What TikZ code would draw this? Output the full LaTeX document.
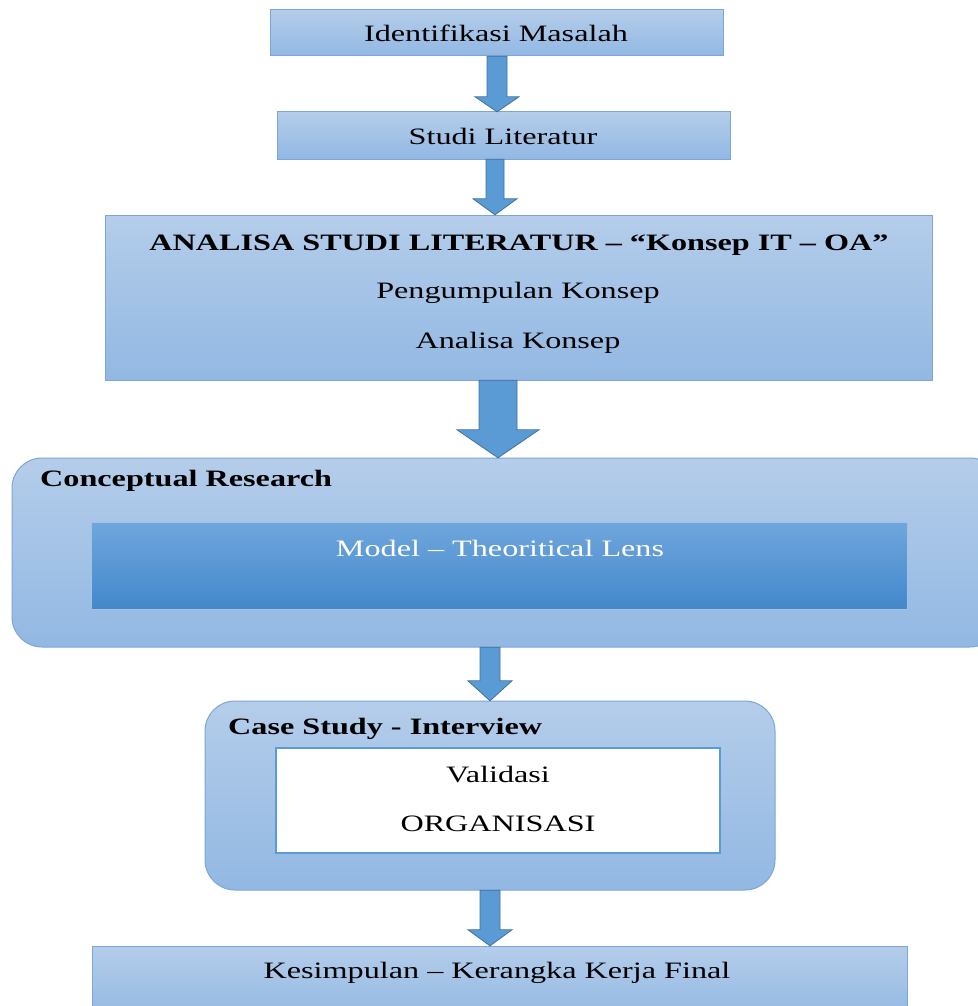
\documentclass[tikz,border=0pt]{standalone}
\usepackage{fontspec}
\setmainfont[FakeStretch=1.37]{Liberation Serif}
\usetikzlibrary{calc}

\definecolor{boxtop}{RGB}{180,205,234}
\definecolor{boxbot}{RGB}{146,184,227}
\definecolor{boxline}{RGB}{125,165,215}
\definecolor{modeltop}{RGB}{112,166,221}
\definecolor{modelbot}{RGB}{66,136,203}
\definecolor{arrowfill}{RGB}{91,155,213}
\definecolor{arrowline}{RGB}{65,113,156}

% block arrow: x centre, from node, to node, half shaft, half head, head length
\newcommand{\blockarrow}[6]{%
  \draw[flowarrow] let \p1=(#2.south), \p2=(#3.north) in
    (#1pt-#4pt,\y1) -- (#1pt+#4pt,\y1) -- (#1pt+#4pt,\y2+#6pt) --
    (#1pt+#5pt,\y2+#6pt) -- (#1pt,\y2) -- (#1pt-#5pt,\y2+#6pt) --
    (#1pt-#4pt,\y2+#6pt) -- cycle;}

\begin{document}
\begin{tikzpicture}[x=1pt,y=-1pt,
  box/.style={draw=boxline, line width=1pt, top color=boxtop, bottom color=boxbot,
    inner sep=0pt, outer sep=0pt},
  roundbox/.style={box, rounded corners=30pt},
  modelbox/.style={draw=boxline!70!white, line width=1pt, top color=modeltop,
    bottom color=modelbot, inner sep=0pt, outer sep=0pt},
  whitebox/.style={draw=arrowfill, line width=1.5pt, fill=white,
    inner sep=0pt, outer sep=0pt},
  txt/.style={font=\fontsize{23.5}{28}\selectfont, inner sep=0pt, anchor=base},
  bold/.style={txt, font=\fontsize{23.5}{28}\selectfont\bfseries},
  flowarrow/.style={draw=arrowline, line width=0.8pt, fill=arrowfill}]

\useasboundingbox (0,0) rectangle (977,1006);

% boxes, top to bottom
\path[box] (270,10) rectangle (723,56);
\node[inner sep=0pt, minimum width=453pt, minimum height=46pt] (b1) at (496.5,33) {};
\path[box] (277,112) rectangle (730,159);
\node[inner sep=0pt, minimum width=453pt, minimum height=47pt] (b2) at (503.5,135.5) {};
\path[box] (105,215) rectangle (932,380);
\node[inner sep=0pt, minimum width=827pt, minimum height=165pt] (b3) at (518.5,297.5) {};
\path[roundbox] (12,458) rectangle (1000,647);
\node[inner sep=0pt, minimum width=988pt, minimum height=189pt] (b4) at (506,552.5) {};
\path[modelbox] (91,522) rectangle (907,609);
\node[inner sep=0pt, minimum width=816pt, minimum height=87pt] (m) at (499,565.5) {};
\path[roundbox] (205,701) rectangle (775,890);
\node[inner sep=0pt, minimum width=570pt, minimum height=189pt] (b5) at (490,795.5) {};
\path[whitebox] (276,748) rectangle (720,853);
\node[inner sep=0pt, minimum width=444pt, minimum height=105pt] (w) at (498,800.5) {};
\path[box] (92,946) rectangle (907,1020);
\node[inner sep=0pt, minimum width=815pt, minimum height=74pt] (b6) at (499.5,983) {};

% texts
\node[txt] (t1) at (496,42) {Identifikasi Masalah};
\node[txt] (t2) at (503,145) {Studi Literatur};
\node[bold] (t3) at (519,250) {ANALISA STUDI LITERATUR – “Konsep IT – OA”};
\node[txt] (t4) at (518,298) {Pengumpulan Konsep};
\node[txt] (t5) at (518,348) {Analisa Konsep};
\node[bold, anchor=base west] (t6) at (40,486) {Conceptual Research};
\node[txt, text=white] (t7) at (500,556) {Model – Theoritical Lens};
\node[bold, anchor=base west] (t8) at (228,734) {Case Study - Interview};
\node[txt] (t9) at (498,782) {Validasi};
\node[txt] (t10) at (498,831) {ORGANISASI};
\node[txt] (t11) at (497,978) {Kesimpulan – Kerangka Kerja Final};

% connecting block arrows
\blockarrow{497}{b1}{b2}{10}{22}{15}
\blockarrow{495}{b2}{b3}{9}{22}{16}
\blockarrow{498}{b3}{b4}{19}{41}{28}
\blockarrow{490}{b4}{b5}{10}{22}{20}
\blockarrow{490}{b5}{b6}{10}{22}{16}

\end{tikzpicture}
\end{document}
